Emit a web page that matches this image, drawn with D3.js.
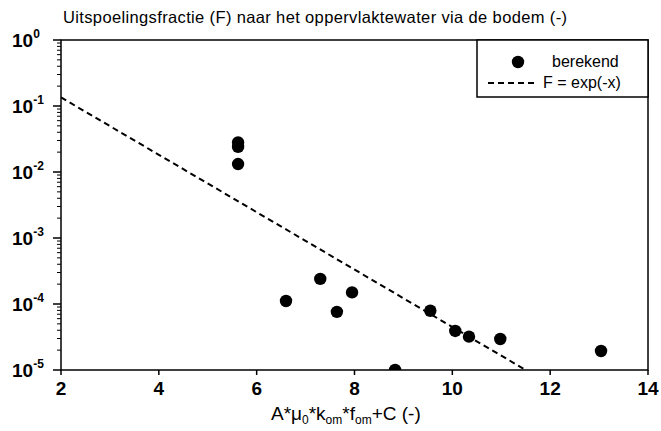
<!DOCTYPE html>
<html>
<head>
<meta charset="utf-8">
<script src="https://cdn.jsdelivr.net/npm/d3@7"></script>
<style>
  body { margin: 0; background: #fff; }
  text { font-family: "Liberation Sans", Arial, sans-serif; fill: #000; }
</style>
</head>
<body>
<svg id="chart" width="661" height="431"></svg>
<script>
// berekend (computed) points
let xVals = [5.62, 5.62, 5.62, 6.60, 7.30, 7.64, 7.95, 8.83, 9.55, 10.06, 10.34, 10.98, 13.04];
let fVals = [0.028, 0.024, 0.0132, 1.11e-4, 2.4e-4, 7.6e-5, 1.5e-4, 1.0e-5, 7.9e-5, 3.9e-5, 3.2e-5, 2.95e-5, 1.94e-5];

// F = exp(-x) reference line (straight on the log axis), end points
let lineX = [2, 11.5];
let lineF = [0.135, 1.0e-5];

let xTicks = [2, 4, 6, 8, 10, 12, 14];
let yExps = [0, -1, -2, -3, -4, -5];

let titleText = "Uitspoelingsfractie (F) naar het oppervlaktewater via de bodem (-)";
let legendLabels = ["berekend", "F = exp(-x)"];

let svg = d3.select("#chart");
let pLeft = 61, pRight = 648, pTop = 40, pBottom = 370;

let x = d3.scaleLinear().domain([2, 14]).range([pLeft, pRight]);
let y = d3.scaleLog().domain([1e-5, 1]).range([pBottom, pTop]);

// clip for marks
svg.append("clipPath").attr("id", "plotclip")
  .append("rect")
  .attr("x", pLeft).attr("y", pTop)
  .attr("width", pRight - pLeft).attr("height", pBottom - pTop);

// title
svg.append("text")
  .attr("x", 63).attr("y", 23)
  .attr("font-size", 16.5)
  .attr("textLength", 504)
  .attr("lengthAdjust", "spacing")
  .text(titleText);

// y axis ticks (major + minor), drawn outward
let minor = [];
for (let e = -5; e < 0; e++) {
  for (let m = 2; m <= 9; m++) minor.push(m * Math.pow(10, e));
}
svg.append("g").selectAll("line.minor").data(minor).join("line")
  .attr("x1", pLeft - 4).attr("x2", pLeft)
  .attr("y1", d => y(d)).attr("y2", d => y(d))
  .attr("stroke", "#000").attr("stroke-width", 1);

svg.append("g").selectAll("line.major").data(yExps).join("line")
  .attr("x1", pLeft - 8).attr("x2", pLeft)
  .attr("y1", d => y(Math.pow(10, d))).attr("y2", d => y(Math.pow(10, d)))
  .attr("stroke", "#000").attr("stroke-width", 1.5);

let yLab = svg.append("g").selectAll("text").data(yExps).join("text")
  .attr("x", 12)
  .attr("y", d => y(Math.pow(10, d)) + 7)
  .attr("font-size", 19)
  .attr("font-weight", "bold");
yLab.append("tspan").text("10");
yLab.append("tspan")
  .attr("dy", -9)
  .attr("font-size", 12)
  .text(d => d);

// x axis ticks
svg.append("g").selectAll("line").data(xTicks).join("line")
  .attr("x1", d => x(d)).attr("x2", d => x(d))
  .attr("y1", pBottom).attr("y2", pBottom + 5)
  .attr("stroke", "#000").attr("stroke-width", 1.5);

svg.append("g").selectAll("text").data(xTicks).join("text")
  .attr("x", d => x(d))
  .attr("y", pBottom + 25)
  .attr("text-anchor", "middle")
  .attr("font-size", 19)
  .attr("font-weight", "bold")
  .text(d => d);

// x axis title with subscripts
let xt = svg.append("text")
  .attr("x", 271)
  .attr("y", 420)
  .attr("font-size", 19);
xt.append("tspan").text("A*\u03bc");
xt.append("tspan").attr("font-size", 12).attr("dy", 4).text("0");
xt.append("tspan").attr("dy", -4).text("*k");
xt.append("tspan").attr("font-size", 12).attr("dy", 4).text("om");
xt.append("tspan").attr("dy", -4).text("*f");
xt.append("tspan").attr("font-size", 12).attr("dy", 4).text("om");
xt.append("tspan").attr("dy", -4).text("+C (-)");

// plot marks
let plot = svg.append("g").attr("clip-path", "url(#plotclip)");

let lineData = lineX.map((d, i) => ({x: d, f: lineF[i]}));
plot.append("path")
  .datum(lineData)
  .attr("d", d3.line().x(d => x(d.x)).y(d => y(d.f)))
  .attr("fill", "none")
  .attr("stroke", "#000")
  .attr("stroke-width", 2)
  .attr("stroke-dasharray", "6,4");

let pts = xVals.map((d, i) => ({x: d, f: fVals[i]}));
plot.selectAll("circle").data(pts).join("circle")
  .attr("cx", d => x(d.x))
  .attr("cy", d => y(d.f))
  .attr("r", 6.2)
  .attr("fill", "#000");

// frame
svg.append("rect")
  .attr("x", pLeft).attr("y", pTop)
  .attr("width", pRight - pLeft).attr("height", pBottom - pTop)
  .attr("fill", "none").attr("stroke", "#000").attr("stroke-width", 1.5);

// legend
let lg = svg.append("g");
lg.append("rect")
  .attr("x", 477).attr("y", pTop)
  .attr("width", pRight - 477).attr("height", 57)
  .attr("fill", "#fff").attr("stroke", "#000").attr("stroke-width", 1.5);
lg.append("circle").attr("cx", 518).attr("cy", 62).attr("r", 6.2).attr("fill", "#000");
lg.append("line")
  .attr("x1", 488).attr("x2", 538).attr("y1", 83).attr("y2", 83)
  .attr("stroke", "#000").attr("stroke-width", 2).attr("stroke-dasharray", "6,4");
lg.selectAll("text").data(legendLabels).join("text")
  .attr("x", (d, i) => i == 0 ? 552 : 543)
  .attr("y", (d, i) => 67 + i * 21)
  .attr("font-size", 16)
  .text(d => d);
</script>
</body>
</html>
